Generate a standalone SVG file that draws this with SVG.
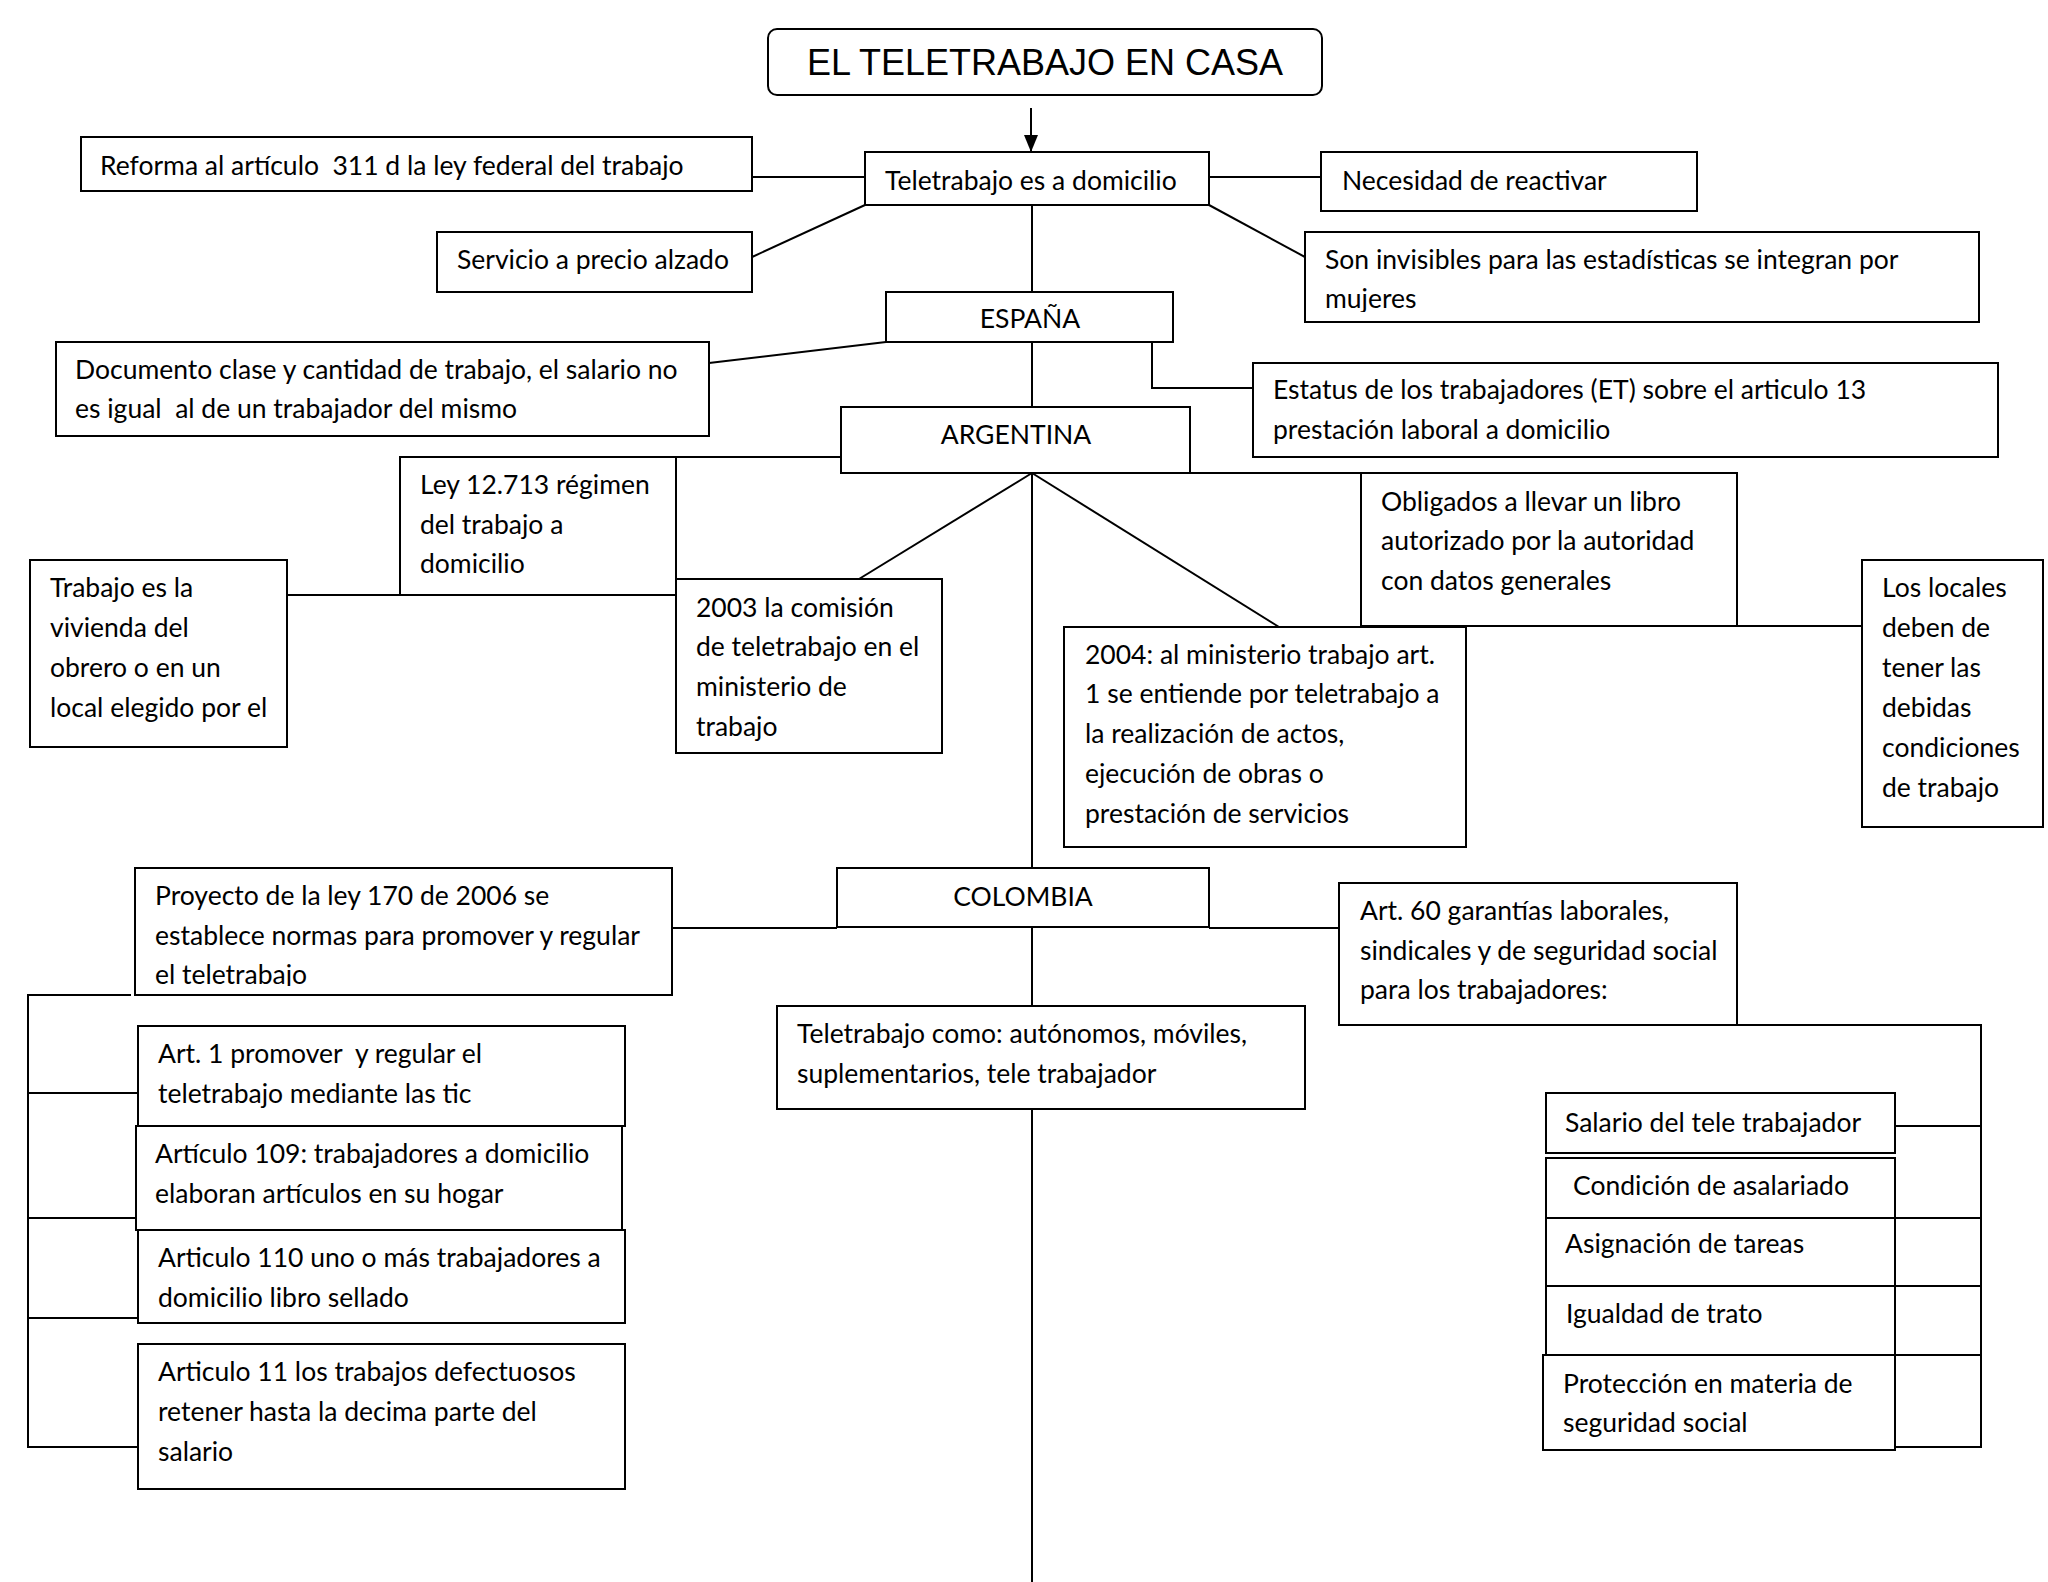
<svg xmlns="http://www.w3.org/2000/svg" width="2048" height="1582" viewBox="0 0 2048 1582">
<style>
.b{fill:#fff;stroke:#000;stroke-width:2}
.c{fill:none;stroke:#000;stroke-width:2}
.t{font-family:Lato,"Open Sans",sans-serif;font-size:26.5px;fill:#000}
.m{text-anchor:middle}
.h{font-family:"Liberation Sans",Arial,sans-serif;font-size:36px;fill:#000;text-anchor:middle}
</style>
<defs>
<marker id="ah" viewBox="0 0 17 14" refX="17" refY="7" markerWidth="17" markerHeight="14" markerUnits="userSpaceOnUse" orient="auto">
<path d="M0,0 L17,7 L0,14 z" fill="#000"/>
</marker>
<clipPath id="clipSon"><rect x="1305" y="232" width="674" height="80"/></clipPath>
<clipPath id="clipPro"><rect x="135" y="868" width="537" height="118"/></clipPath>
</defs>
<rect width="2048" height="1582" fill="#fff"/>
<g id="connectors">
<line class="c" x1="1031" y1="108" x2="1031" y2="152" marker-end="url(#ah)"/>
<line class="c" x1="752" y1="177" x2="865" y2="177"/>
<line class="c" x1="752" y1="257" x2="865" y2="205"/>
<line class="c" x1="1209" y1="177" x2="1321" y2="177"/>
<line class="c" x1="1209" y1="205" x2="1305" y2="257"/>
<line class="c" x1="1032" y1="205" x2="1032" y2="292"/>
<line class="c" x1="886" y1="342" x2="709" y2="363"/>
<polyline class="c" points="1152,342 1152,388 1253,388"/>
<line class="c" x1="1032" y1="342" x2="1032" y2="407"/>
<line class="c" x1="676" y1="457" x2="841" y2="457"/>
<line class="c" x1="287" y1="595" x2="400" y2="595"/>
<line class="c" x1="1032" y1="473" x2="859" y2="579"/>
<line class="c" x1="1032" y1="473" x2="1279" y2="627"/>
<line class="c" x1="1190" y1="473" x2="1361" y2="473"/>
<line class="c" x1="1737" y1="626" x2="1862" y2="626"/>
<line class="c" x1="1032" y1="473" x2="1032" y2="868"/>
<line class="c" x1="1032" y1="927" x2="1032" y2="1006"/>
<line class="c" x1="1032" y1="1109" x2="1032" y2="1582"/>
<line class="c" x1="672" y1="928" x2="837" y2="928"/>
<polyline class="c" points="131,995 28,995 28,1447 138,1447"/>
<line class="c" x1="28" y1="1093" x2="138" y2="1093"/>
<line class="c" x1="28" y1="1218" x2="136" y2="1218"/>
<line class="c" x1="28" y1="1318" x2="138" y2="1318"/>
<line class="c" x1="1209" y1="928" x2="1339" y2="928"/>
<polyline class="c" points="1737,1025 1981,1025 1981,1447 1895,1447"/>
<line class="c" x1="1895" y1="1126" x2="1981" y2="1126"/>
<line class="c" x1="1895" y1="1218" x2="1981" y2="1218"/>
<line class="c" x1="1895" y1="1286" x2="1981" y2="1286"/>
<line class="c" x1="1895" y1="1355" x2="1981" y2="1355"/>
</g>
<g id="title"><rect class="b" x="768" y="29" width="554" height="66" rx="9"/><text class="h" x="1045" y="75">EL TELETRABAJO EN CASA</text></g>
<g id="teletrabajo"><rect class="b" x="865" y="152" width="344" height="53"/><text class="t" x="885" y="190">Teletrabajo es a domicilio</text></g>
<g id="reforma"><rect class="b" x="81" y="137" width="671" height="54"/><text class="t" x="100" y="175" xml:space="preserve">Reforma al artículo  311 d la ley federal del trabajo</text></g>
<g id="servicio"><rect class="b" x="437" y="232" width="315" height="60"/><text class="t" x="457" y="269">Servicio a precio alzado</text></g>
<g id="necesidad"><rect class="b" x="1321" y="152" width="376" height="59"/><text class="t" x="1342" y="190">Necesidad de reactivar</text></g>
<g id="invisibles"><rect class="b" x="1305" y="232" width="674" height="90"/><g clip-path="url(#clipSon)"><text class="t" x="1325" y="269">Son invisibles para las estadísticas se integran por</text><text class="t" x="1325" y="308">mujeres</text></g></g>
<g id="espana"><rect class="b" x="886" y="292" width="287" height="50"/><text class="t m" x="1030" y="328">ESPAÑA</text></g>
<g id="documento"><rect class="b" x="56" y="342" width="653" height="94"/><text class="t" x="75" y="379">Documento clase y cantidad de trabajo, el salario no</text><text class="t" x="75" y="418" xml:space="preserve">es igual  al de un trabajador del mismo</text></g>
<g id="estatus"><rect class="b" x="1253" y="363" width="745" height="94"/><text class="t" x="1273" y="399">Estatus de los trabajadores (ET) sobre el articulo 13</text><text class="t" x="1273" y="439">prestación laboral a domicilio</text></g>
<g id="argentina"><rect class="b" x="841" y="407" width="349" height="66"/><text class="t m" x="1016" y="444">ARGENTINA</text></g>
<g id="ley"><rect class="b" x="400" y="457" width="276" height="138"/><text class="t" x="420" y="494">Ley 12.713 régimen</text><text class="t" x="420" y="534">del trabajo a</text><text class="t" x="420" y="573">domicilio</text></g>
<g id="vivienda"><rect class="b" x="30" y="560" width="257" height="187"/><text class="t" x="50" y="597">Trabajo es la</text><text class="t" x="50" y="637">vivienda del</text><text class="t" x="50" y="677">obrero o en un</text><text class="t" x="50" y="717">local elegido por el</text></g>
<g id="comision2003"><rect class="b" x="676" y="579" width="266" height="174"/><text class="t" x="696" y="617">2003 la comisión</text><text class="t" x="696" y="656">de teletrabajo en el</text><text class="t" x="696" y="696">ministerio de</text><text class="t" x="696" y="736">trabajo</text></g>
<g id="obligados"><rect class="b" x="1361" y="473" width="376" height="153"/><text class="t" x="1381" y="511">Obligados a llevar un libro</text><text class="t" x="1381" y="550">autorizado por la autoridad</text><text class="t" x="1381" y="590">con datos generales</text></g>
<g id="locales"><rect class="b" x="1862" y="560" width="181" height="267"/><text class="t" x="1882" y="597">Los locales</text><text class="t" x="1882" y="637">deben de</text><text class="t" x="1882" y="677">tener las</text><text class="t" x="1882" y="717">debidas</text><text class="t" x="1882" y="757">condiciones</text><text class="t" x="1882" y="797">de trabajo</text></g>
<g id="ministerio2004"><rect class="b" x="1064" y="627" width="402" height="220"/><text class="t" x="1085" y="664">2004: al ministerio trabajo art.</text><text class="t" x="1085" y="703">1 se entiende por teletrabajo a</text><text class="t" x="1085" y="743">la realización de actos,</text><text class="t" x="1085" y="783">ejecución de obras o</text><text class="t" x="1085" y="823">prestación de servicios</text></g>
<g id="proyecto"><rect class="b" x="135" y="868" width="537" height="127"/><g clip-path="url(#clipPro)"><text class="t" x="155" y="905">Proyecto de la ley 170 de 2006 se</text><text class="t" x="155" y="945">establece normas para promover y regular</text><text class="t" x="155" y="984">el teletrabajo</text></g></g>
<g id="colombia"><rect class="b" x="837" y="868" width="372" height="59"/><text class="t m" x="1023" y="906">COLOMBIA</text></g>
<g id="como"><rect class="b" x="777" y="1006" width="528" height="103"/><text class="t" x="797" y="1043">Teletrabajo como: autónomos, móviles,</text><text class="t" x="797" y="1083">suplementarios, tele trabajador</text></g>
<g id="art60"><rect class="b" x="1339" y="883" width="398" height="142"/><text class="t" x="1360" y="920">Art. 60 garantías laborales,</text><text class="t" x="1360" y="960">sindicales y de seguridad social</text><text class="t" x="1360" y="999">para los trabajadores:</text></g>
<g id="art1"><rect class="b" x="138" y="1026" width="487" height="100"/><text class="t" x="158" y="1063" xml:space="preserve">Art. 1 promover  y regular el</text><text class="t" x="158" y="1103">teletrabajo mediante las tic</text></g>
<g id="art109"><rect class="b" x="136" y="1126" width="486" height="104"/><text class="t" x="155" y="1163">Artículo 109: trabajadores a domicilio</text><text class="t" x="155" y="1203">elaboran artículos en su hogar</text></g>
<g id="art110"><rect class="b" x="138" y="1230" width="487" height="93"/><text class="t" x="158" y="1267">Articulo 110 uno o más trabajadores a</text><text class="t" x="158" y="1307">domicilio libro sellado</text></g>
<g id="art11"><rect class="b" x="138" y="1344" width="487" height="145"/><text class="t" x="158" y="1381">Articulo 11 los trabajos defectuosos</text><text class="t" x="158" y="1421">retener hasta la decima parte del</text><text class="t" x="158" y="1461">salario</text></g>
<g id="salario"><rect class="b" x="1546" y="1093" width="349" height="60"/><text class="t" x="1565" y="1132">Salario del tele trabajador</text></g>
<g id="condicion"><rect class="b" x="1546" y="1158" width="349" height="60"/><text class="t" x="1573" y="1195">Condición de asalariado</text></g>
<g id="asignacion"><rect class="b" x="1546" y="1218" width="349" height="68"/><text class="t" x="1565" y="1253">Asignación de tareas</text></g>
<g id="igualdad"><rect class="b" x="1546" y="1286" width="349" height="69"/><text class="t" x="1566" y="1323">Igualdad de trato</text></g>
<g id="proteccion"><rect class="b" x="1543" y="1355" width="352" height="95"/><text class="t" x="1563" y="1393">Protección en materia de</text><text class="t" x="1563" y="1432">seguridad social</text></g>
</svg>
